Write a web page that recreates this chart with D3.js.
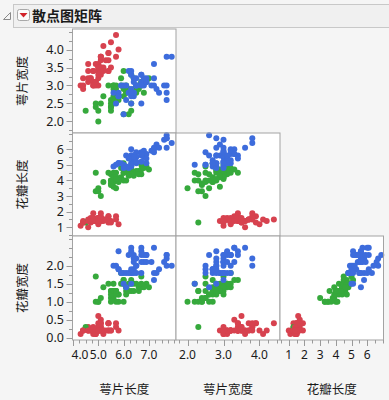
<!DOCTYPE html>
<html><head><meta charset="utf-8">
<script src="https://cdn.jsdelivr.net/npm/d3@7"></script>
<style>
html,body{margin:0;padding:0;background:#f5f5f5;}
svg{display:block;}
</style></head>
<body>
<script>
// ---- data (Fisher iris, as plotted) ----
const varNames = ["萼片长度", "萼片宽度", "花瓣长度", "花瓣宽度"];
const sepalLength = [
5.1,4.9,4.7,4.6,5.0,5.4,4.6,5.0,4.4,4.9,5.4,4.8,4.8,4.3,5.8,5.7,5.4,5.1,5.7,5.1,
5.4,5.1,4.6,5.1,4.8,5.0,5.0,5.2,5.2,4.7,4.8,5.4,5.2,5.5,4.9,5.0,5.5,4.9,4.4,5.1,
5.0,4.5,4.4,5.0,5.1,4.8,5.1,4.6,5.3,5.0,
7.0,6.4,6.9,5.5,6.5,5.7,6.3,4.9,6.6,5.2,5.0,5.9,6.0,6.1,5.6,6.7,5.6,5.8,6.2,5.6,
5.9,6.1,6.3,6.1,6.4,6.6,6.8,6.7,6.0,5.7,5.5,5.5,5.8,6.0,5.4,6.0,6.7,6.3,5.6,5.5,
5.5,6.1,5.8,5.0,5.6,5.7,5.7,6.2,5.1,5.7,
6.3,5.8,7.1,6.3,6.5,7.6,4.9,7.3,6.7,7.2,6.5,6.4,6.8,5.7,5.8,6.4,6.5,7.7,7.7,6.0,
6.9,5.6,7.7,6.3,6.7,7.2,6.2,6.1,6.4,7.2,7.4,7.9,6.4,6.3,6.1,7.7,6.3,6.4,6.0,6.9,
6.7,6.9,5.8,6.8,6.7,6.7,6.3,6.5,6.2,5.9];
const sepalWidth = [
3.5,3.0,3.2,3.1,3.6,3.9,3.4,3.4,2.9,3.1,3.7,3.4,3.0,3.0,4.0,4.4,3.9,3.5,3.8,3.8,
3.4,3.7,3.6,3.3,3.4,3.0,3.4,3.5,3.4,3.2,3.1,3.4,4.1,4.2,3.1,3.2,3.5,3.6,3.0,3.4,
3.5,2.3,3.2,3.5,3.8,3.0,3.8,3.2,3.7,3.3,
3.2,3.2,3.1,2.3,2.8,2.8,3.3,2.4,2.9,2.7,2.0,3.0,2.2,2.9,2.9,3.1,3.0,2.7,2.2,2.5,
3.2,2.8,2.5,2.8,2.9,3.0,2.8,3.0,2.9,2.6,2.4,2.4,2.7,2.7,3.0,3.4,3.1,2.3,3.0,2.5,
2.6,3.0,2.6,2.3,2.7,3.0,2.9,2.9,2.5,2.8,
3.3,2.7,3.0,2.9,3.0,3.0,2.5,2.9,2.5,3.6,3.2,2.7,3.0,2.5,2.8,3.2,3.0,3.8,2.6,2.2,
3.2,2.8,2.8,2.7,3.3,3.2,2.8,3.0,2.8,3.0,2.8,3.8,2.8,2.8,2.6,3.0,3.4,3.1,3.0,3.1,
3.1,3.1,2.7,3.2,3.3,3.0,2.5,3.0,3.4,3.0];
const petalLength = [
1.4,1.4,1.3,1.5,1.4,1.7,1.4,1.5,1.4,1.5,1.5,1.6,1.4,1.1,1.2,1.5,1.3,1.4,1.7,1.5,
1.7,1.5,1.0,1.7,1.9,1.6,1.6,1.5,1.4,1.6,1.6,1.5,1.5,1.4,1.5,1.2,1.3,1.4,1.3,1.5,
1.3,1.3,1.3,1.6,1.9,1.4,1.6,1.4,1.5,1.4,
4.7,4.5,4.9,4.0,4.6,4.5,4.7,3.3,4.6,3.9,3.5,4.2,4.0,4.7,3.6,4.4,4.5,4.1,4.5,3.9,
4.8,4.0,4.9,4.7,4.3,4.4,4.8,5.0,4.5,3.5,3.8,3.7,3.9,5.1,4.5,4.5,4.7,4.4,4.1,4.0,
4.4,4.6,4.0,3.3,4.2,4.2,4.2,4.3,3.0,4.1,
6.0,5.1,5.9,5.6,5.8,6.6,4.5,6.3,5.8,6.1,5.1,5.3,5.5,5.0,5.1,5.3,5.5,6.7,6.9,5.0,
5.7,4.9,6.7,4.9,5.7,6.0,4.8,4.9,5.6,5.8,6.1,6.4,5.6,5.1,5.6,6.1,5.6,5.5,4.8,5.4,
5.6,5.1,5.1,5.9,5.7,5.2,5.0,5.2,5.4,5.1];
const petalWidth = [
0.2,0.2,0.2,0.2,0.2,0.4,0.3,0.2,0.2,0.1,0.2,0.2,0.1,0.1,0.2,0.4,0.4,0.3,0.3,0.3,
0.2,0.4,0.2,0.5,0.2,0.2,0.4,0.2,0.2,0.2,0.2,0.4,0.1,0.2,0.2,0.2,0.2,0.1,0.2,0.2,
0.3,0.3,0.2,0.6,0.4,0.3,0.2,0.2,0.2,0.2,
1.4,1.5,1.5,1.3,1.5,1.3,1.6,1.0,1.3,1.4,1.0,1.5,1.0,1.4,1.3,1.4,1.5,1.0,1.5,1.1,
1.8,1.3,1.5,1.2,1.3,1.4,1.4,1.7,1.5,1.0,1.1,1.0,1.2,1.6,1.5,1.6,1.5,1.3,1.3,1.3,
1.2,1.4,1.2,1.0,1.3,1.2,1.3,1.3,1.1,1.3,
2.5,1.9,2.1,1.8,2.2,2.1,1.7,1.8,1.8,2.5,2.0,1.9,2.1,2.0,2.4,2.3,1.8,2.2,2.3,1.5,
2.3,2.0,2.0,1.8,2.1,1.8,1.8,1.8,2.1,1.6,1.9,2.0,2.2,1.5,1.4,2.3,2.4,1.8,1.8,2.1,
2.4,2.3,1.9,2.3,2.5,2.3,1.9,2.0,2.3,1.8];
// species code per row: s = setosa, c = versicolor, v = virginica
const species = [
"s","s","s","s","s","s","s","s","s","s","s","s","s","s","s","s","s","s","s","s",
"s","s","s","s","s","s","s","s","s","s","s","s","s","s","s","s","s","s","s","s",
"s","c","s","s","s","s","s","s","s","s",
"c","c","c","c","c","c","c","c","c","c","c","c","c","c","c","c","c","c","c","c",
"c","c","c","c","c","c","c","c","c","c","c","c","c","c","c","c","c","c","c","c",
"c","c","c","c","c","c","c","c","c","c",
"v","v","v","v","v","v","c","v","v","v","v","v","v","v","v","v","v","v","v","v",
"v","v","v","v","v","v","v","v","v","v","v","v","v","v","v","v","v","v","v","v",
"v","v","v","v","v","v","v","v","v","v"];
// axis tick labels per variable
const yTickLabels = [
  null,
  ["2.0","2.5","3.0","3.5","4.0"],
  ["1","2","3","4","5","6"],
  ["0.0","0.5","1.0","1.5","2.0"]
];
const xTickLabels = [
  ["4.0","5.0","6.0","7.0"],
  ["2.0","3.0","4.0"],
  ["1","2","3","4","5","6"]
];
const minorStep = [0.25, 0.25, 0.5, 0.25];
const domains = [[3.98, 8.07], [1.68, 4.57], [0.44, 7.04], [-0.064, 2.825]];

// ---- layout ----
const W = 389, H = 400;
const colX = [72.5, 176, 280, 383.5];
const rowY = [29, 133, 236, 340];
const colors = {s: "#d7424f", c: "#36a93c", v: "#3d6cdc"};
const vars = [sepalLength, sepalWidth, petalLength, petalWidth];

const svg = d3.select("body").append("svg").attr("width", W).attr("height", H);
svg.append("rect").attr("width", W).attr("height", H).attr("fill", "#f5f5f5");

// outline box / header
svg.append("rect").attr("x", 13.5).attr("y", 4.5).attr("width", 380).attr("height", 23)
  .attr("fill", "#f0f0f0").attr("stroke", "#c8c8c8");
svg.append("path").attr("d", "M10.5,12.5 L10.5,19.5 L3.5,19.5 Z").attr("fill", "#f5f5f5").attr("stroke", "#8a8a8a");
svg.append("rect").attr("x", 17.5).attr("y", 9.5).attr("width", 12).attr("height", 11).attr("rx", 2)
  .attr("fill", "#fbfbfb").attr("stroke", "#a8a8a8");
svg.append("path").attr("d", "M19.5,13 L27.5,13 L23.5,17.5 Z").attr("fill", "#d2232a");
svg.append("text").attr("x", 32).attr("y", 21).attr("font-family", "'Noto Sans CJK SC'")
  .attr("font-size", 14).attr("font-weight", "bold").attr("fill", "#1a1a1a").text("散点图矩阵");

const xScales = [0,1,2].map(j => d3.scaleLinear().domain(domains[j]).range([colX[j], colX[j+1]]));
const yScales = [1,2,3].map((v,i) => d3.scaleLinear().domain(domains[v]).range([rowY[i+1], rowY[i]]));

const fontTick = "'Noto Sans', sans-serif";
// panels
for (let i = 0; i < 3; i++) {
  for (let j = 0; j <= i; j++) {
    const xs = xScales[j], ys = yScales[i];
    const g = svg.append("g");
    g.append("rect").attr("x", colX[j]).attr("y", rowY[i]).attr("width", colX[j+1]-colX[j]).attr("height", rowY[i+1]-rowY[i])
      .attr("fill", "#ffffff");
    const xv = vars[j], yv = vars[i+1];
    g.selectAll("circle").data(d3.range(species.length)).join("circle")
      .attr("cx", k => xs(xv[k])).attr("cy", k => ys(yv[k])).attr("r", 3)
      .attr("fill", k => colors[species[k]]);
    g.append("rect").attr("x", colX[j]).attr("y", rowY[i]).attr("width", colX[j+1]-colX[j]).attr("height", rowY[i+1]-rowY[i])
      .attr("fill", "none").attr("stroke", "#a3a3a3");
  }
}

// left axes
for (let i = 0; i < 3; i++) {
  const v = i + 1, ys = yScales[i];
  const labs = yTickLabels[v].map(Number);
  const minors = d3.range(Math.ceil(domains[v][0]/minorStep[v])*minorStep[v], domains[v][1], minorStep[v]);
  const g = svg.append("g");
  g.selectAll("line").data(minors).join("line")
    .attr("x1", colX[0]).attr("x2", d => colX[0] - (labs.some(l => Math.abs(l-d) < 1e-6) ? 6 : 3.5))
    .attr("y1", d => Math.round(ys(d)) + 0.5).attr("y2", d => Math.round(ys(d)) + 0.5)
    .attr("stroke", "#9a9a9a");
  g.selectAll("text").data(yTickLabels[v]).join("text")
    .attr("x", 64).attr("y", d => ys(+d) + 4.5).attr("text-anchor", "end")
    .attr("font-family", fontTick).attr("font-size", 12.5).attr("fill", "#1a1a1a").text(d => d);
  svg.append("text").attr("transform", `translate(27,${(rowY[i]+rowY[i+1])/2}) rotate(-90)`)
    .attr("text-anchor", "middle").attr("font-family", "'Noto Sans CJK SC'").attr("font-size", 12.5)
    .attr("fill", "#1a1a1a").text(varNames[v]);
}
// bottom axes
for (let j = 0; j < 3; j++) {
  const xs = xScales[j];
  const labs = xTickLabels[j].map(Number);
  const minors = d3.range(Math.ceil(domains[j][0]/minorStep[j])*minorStep[j], domains[j][1], minorStep[j]);
  const g = svg.append("g");
  g.selectAll("line").data(minors).join("line")
    .attr("y1", rowY[3]).attr("y2", d => rowY[3] + (labs.some(l => Math.abs(l-d) < 1e-6) ? 6 : 3.5))
    .attr("x1", d => Math.round(xs(d)) + 0.5).attr("x2", d => Math.round(xs(d)) + 0.5)
    .attr("stroke", "#9a9a9a");
  g.selectAll("text").data(xTickLabels[j]).join("text")
    .attr("x", d => Math.max(xs(+d), colX[j] + 7.5)).attr("y", 359).attr("text-anchor", "middle")
    .attr("font-family", fontTick).attr("font-size", 12).attr("fill", "#1a1a1a").text(d => d);
  svg.append("text").attr("x", (colX[j]+colX[j+1])/2).attr("y", 394)
    .attr("text-anchor", "middle").attr("font-family", "'Noto Sans CJK SC'").attr("font-size", 12.5)
    .attr("fill", "#1a1a1a").text(varNames[j]);
}
</script>
</body></html>
